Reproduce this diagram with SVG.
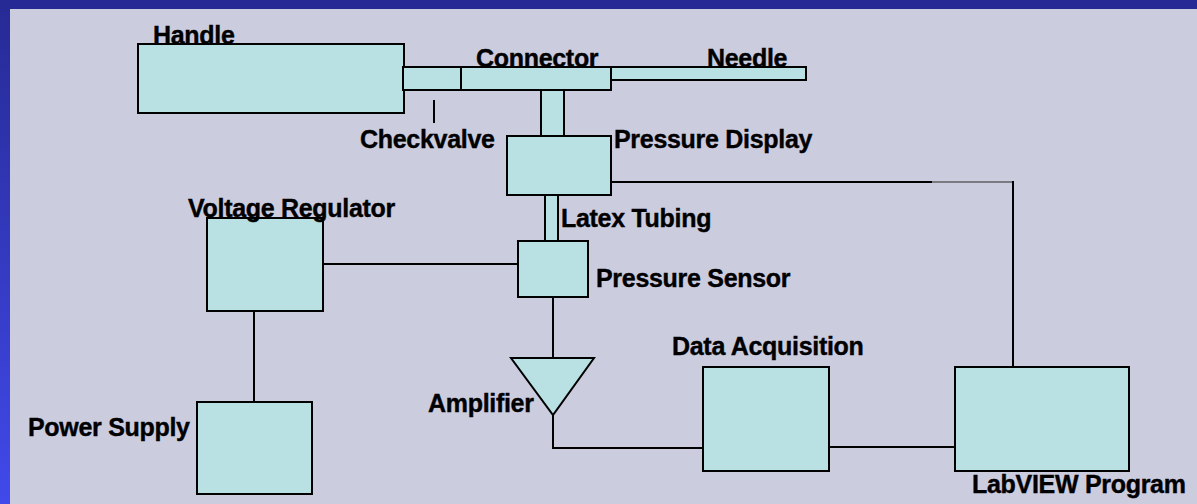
<svg xmlns="http://www.w3.org/2000/svg" width="1197" height="504" viewBox="0 0 1197 504">
  <defs>
    <linearGradient id="sideBand" x1="0" y1="0" x2="0" y2="1">
      <stop offset="0" stop-color="#262A94"/>
      <stop offset="1" stop-color="#4149EA"/>
    </linearGradient>
  </defs>
  <style>
    .box { fill: #B9E0E2; stroke: #000; stroke-width: 2; }
    .wire { fill: none; stroke: #000; stroke-width: 2; }
    .label { font-family: "Liberation Sans", Arial, sans-serif; font-weight: bold; font-size: 25px; letter-spacing: -0.3px; fill: #000; stroke: #000; stroke-width: 0.4; }
  </style>

  <!-- slide background and frame bands -->
  <rect x="0" y="0" width="1197" height="504" fill="#CCCCDF"/>
  <rect x="0" y="0" width="10" height="504" fill="url(#sideBand)"/>
  <rect x="0" y="0" width="1197" height="9" fill="#262A94"/>

  <!-- wiring between components -->
  <g id="connectors">
    <polyline class="wire" points="611,182 932,182"/>
    <polyline points="932,182 1013,182" fill="none" stroke="#7A7A80" stroke-width="2"/>
    <polyline class="wire" points="1013,181 1013,367"/>
    <polyline class="wire" points="323,264 518,264"/>
    <polyline class="wire" points="254,311 254,402"/>
    <polyline class="wire" points="553,297 553,358"/>
    <polyline class="wire" points="553,415 553,448 703,448"/>
    <polyline class="wire" points="829,447 955,447"/>
    <line x1="434" y1="100" x2="434" y2="123" stroke="#000" stroke-width="2"/>
  </g>

  <g id="handle">
    <text class="label" x="153" y="44">Handle</text>
    <rect class="box" x="138" y="44" width="266" height="69"/>
  </g>

  <g id="checkvalve">
    <rect class="box" x="403" y="67" width="58" height="23"/>
    <text class="label" x="360" y="148">Checkvalve</text>
  </g>

  <g id="connector">
    <text class="label" x="476" y="67">Connector</text>
    <rect class="box" x="461" y="67" width="150" height="23"/>
    <rect class="box" x="541" y="90" width="23" height="46"/>
  </g>

  <g id="needle">
    <text class="label" x="707" y="67">Needle</text>
    <rect class="box" x="611" y="67" width="195" height="13"/>
  </g>

  <g id="pressure-display">
    <rect class="box" x="507" y="136" width="104" height="59"/>
    <text class="label" x="614" y="148">Pressure Display</text>
  </g>

  <g id="latex-tubing">
    <rect class="box" x="545" y="195" width="13" height="46"/>
    <text class="label" x="561" y="227">Latex Tubing</text>
  </g>

  <g id="pressure-sensor">
    <rect class="box" x="518" y="241" width="70" height="56"/>
    <text class="label" x="596" y="287">Pressure Sensor</text>
  </g>

  <g id="voltage-regulator">
    <rect class="box" x="207" y="218" width="116" height="93"/>
    <text class="label" x="188" y="217">Voltage Regulator</text>
  </g>

  <g id="power-supply">
    <rect class="box" x="197" y="402" width="115" height="92"/>
    <text class="label" x="28" y="436">Power Supply</text>
  </g>

  <g id="amplifier">
    <polygon class="box" points="511,358 594,358 553,415"/>
    <text class="label" x="428" y="412">Amplifier</text>
  </g>

  <g id="data-acquisition">
    <rect class="box" x="703" y="367" width="126" height="104"/>
    <text class="label" x="672" y="355">Data Acquisition</text>
  </g>

  <g id="labview-program">
    <rect class="box" x="955" y="367" width="174" height="104"/>
    <text class="label" x="972" y="493">LabVIEW Program</text>
  </g>
</svg>
